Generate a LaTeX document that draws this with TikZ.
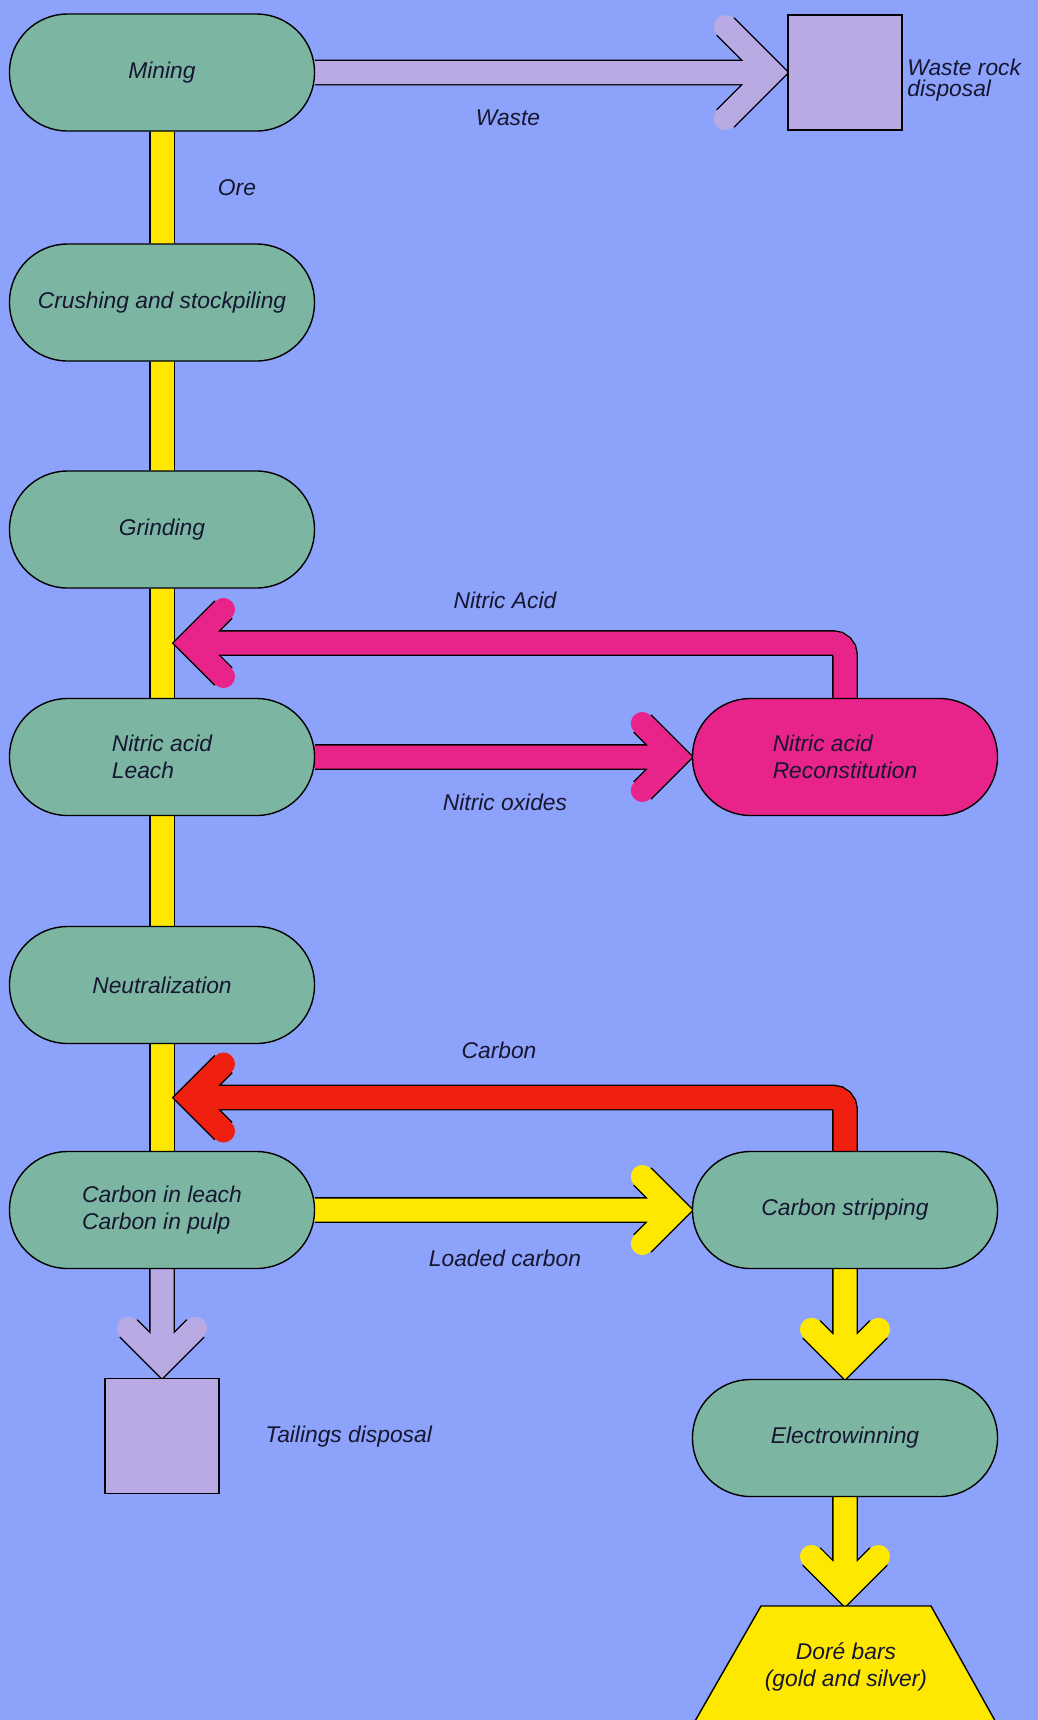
\documentclass[tikz,border=0pt]{standalone}
\usepackage{fontspec}
\setmainfont{Liberation Sans}
\usetikzlibrary{shapes.geometric,positioning}

\definecolor{sheet}{RGB}{141,162,250}
\definecolor{stagegreen}{RGB}{124,182,162}
\definecolor{wastelilac}{RGB}{186,170,228}
\definecolor{oreyellow}{RGB}{255,232,0}
\definecolor{acidpink}{RGB}{232,36,138}
\definecolor{carbonred}{RGB}{240,32,16}
\definecolor{inktext}{RGB}{22,22,48}

\pgfdeclarelayer{sheetlayer}
\pgfdeclarelayer{pipelayer}
\pgfsetlayers{sheetlayer,pipelayer,main}

\newcommand{\flowfont}{\fontsize{11.4}{13.2}\selectfont\itshape}

% pipe with chevron head: colour, from, tip, direction, wing
\newcommand{\flowarrow}[5]{%
  \draw[pipe=#1] (#2) -- ([shift={(#4:-16)}]#3)
    ++({#4+135}:#5) -- ([shift={(#4:-16)}]#3) -- ++({#4-135}:#5);}

\tikzset{
  stage/.style={draw=black, line width=0.7pt, fill=stagegreen, rounded corners=29pt,
    minimum width=152.5pt, minimum height=58.5pt, inner sep=0pt, align=center,
    text=inktext, font=\flowfont},
  bin/.style={draw=black, line width=0.7pt, fill=wastelilac,
    minimum width=57pt, minimum height=57.5pt, inner sep=0pt},
  dorebar/.style={draw=black, line width=0.7pt, fill=oreyellow},
  tag/.style={text=inktext, font=\flowfont, inner sep=1pt},
  pipe/.style={draw=#1, line width=11.5pt, line cap=round, line join=miter,
    preaction={draw=black, line width=12.9pt}},
}

\begin{document}
\begin{tikzpicture}[x=0.5pt, y=-0.5pt]
\useasboundingbox (0,0) rectangle (1038,1720);
\begin{pgfonlayer}{sheetlayer}
  \fill[sheet] (0,0) rectangle (1038,1720);
\end{pgfonlayer}

% Stages
\node[stage] (mining) at (162,72.5) {Mining};
\node[stage] (crush) at (162,302.5) {Crushing and stockpiling};
\node[stage] (grind) at (162,529.5) {Grinding};
\node[stage, align=left] (leach) at (162,757) {Nitric acid\\Leach};
\node[stage] (neutral) at (162,985) {Neutralization};
\node[stage, align=left] (cil) at (162,1210) {Carbon in leach\\Carbon in pulp};
\node[stage, fill=acidpink, align=left] (recon) at (845,757) {Nitric acid\\Reconstitution};
\node[stage] (strip) at (845,1210) {Carbon stripping};
\node[stage] (electro) at (845,1438) {Electrowinning};

% Dore bar
\draw[dorebar] (761,1606) -- (931,1606) -- (1003,1735) -- (687,1735) -- cycle;
\coordinate (doretop) at (845,1606);
\node[tag, align=center] (dore) at (846,1667) {Dor\'e bars\\(gold and silver)};

% Disposal
\node[bin] (wasterock) at (845,72.5) {};
\node[bin] (tailings) at (162,1436) {};

% Labels
\node[tag] (wastelbl) at (508,118) {Waste};
\node[tag, anchor=west, align=left] (rocklbl) at (905,80) {Waste rock\\[-3pt]disposal};
\node[tag] (orelbl) at (237,188) {Ore};
\node[tag] (acidlbl) at (505,600) {Nitric Acid};
\node[tag] (oxidelbl) at (505,802) {Nitric oxides};
\node[tag] (carbonlbl) at (499,1050) {Carbon};
\node[tag] (loadedlbl) at (505,1258) {Loaded carbon};
\node[tag, anchor=west] (taillbl) at (263,1437) {Tailings disposal};

\coordinate (acidin) at (174,643);
\coordinate (carbonin) at (174,1097.5);

% Pipes
\begin{pgfonlayer}{pipelayer}
  \draw[pipe=oreyellow] (mining) -- (crush);
  \draw[pipe=oreyellow] (crush) -- (grind);
  \draw[pipe=oreyellow] (grind) -- (leach);
  \draw[pipe=oreyellow] (leach) -- (neutral);
  \draw[pipe=oreyellow] (neutral) -- (cil);

  \flowarrow{wastelilac}{mining}{wasterock.west}{0}{65}
  \flowarrow{acidpink}{leach}{recon.west}{0}{47.4}
  \draw[pipe=acidpink, rounded corners=6pt] (recon) |- ([xshift=8pt]acidin)
    [sharp corners] ++(-45:47.4) -- ([xshift=8pt]acidin) -- ++(45:47.4);
  \draw[pipe=carbonred, rounded corners=6pt] (strip) |- ([xshift=8pt]carbonin)
    [sharp corners] ++(-45:47.4) -- ([xshift=8pt]carbonin) -- ++(45:47.4);
  \flowarrow{oreyellow}{cil}{strip.west}{0}{47.4}
  \flowarrow{wastelilac}{cil}{tailings.north}{90}{47.4}
  \flowarrow{oreyellow}{strip}{electro.north}{90}{47.4}
  \flowarrow{oreyellow}{electro}{doretop}{90}{47.4}
\end{pgfonlayer}
\end{tikzpicture}
\end{document}
